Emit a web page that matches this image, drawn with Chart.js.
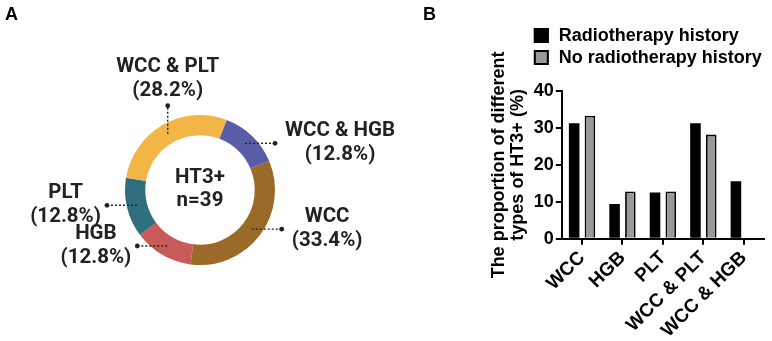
<!DOCTYPE html>
<html>
<head>
<meta charset="utf-8">
<script src="https://cdn.jsdelivr.net/npm/chart.js@4.4.1/dist/chart.umd.min.js"></script>
<style>
  body { margin: 0; background: #fff; }
  #wrap { position: relative; width: 772px; height: 341px; overflow: hidden; }
  #ringChart { position: absolute; left: 0; top: 0; }
  #barChart { position: absolute; left: 420px; top: 0; }
  .tag { position: absolute; top: 5px; font: bold 18px "Liberation Sans", Arial, sans-serif; line-height: 18px; color: #000; }
</style>
</head>
<body>
<div id="wrap">
  <canvas id="ringChart" width="420" height="341"></canvas>
  <canvas id="barChart" width="352" height="341"></canvas>
  <div class="tag" style="left:5px">A</div>
  <div class="tag" style="left:423px">B</div>
</div>
<script>
// Panel A data
const ringLabels = ['WCC', 'HGB', 'PLT', 'WCC & PLT', 'WCC & HGB'];
const ringShares = [33.4, 12.8, 12.8, 28.2, 12.8];
const centerLines = ['HT3+', 'n=39'];

// Panel B data
const categories = ['WCC', 'HGB', 'PLT', 'WCC & PLT', 'WCC & HGB'];
const radioHistory = [31.3, 9.4, 12.5, 31.3, 15.6];
const noRadioHistory = [33.3, 12.8, 12.8, 28.2, 0];
const yTicks = [0, 10, 20, 30, 40];

const ringColors = ['#9b6a28', '#c95a5a', '#2e6e7f', '#f2b647', '#5b5ca8'];
const ringFont = 'bold 20.5px Roboto, "Liberation Sans", sans-serif';
const barFont = '"Liberation Sans", Arial, sans-serif';

// labels with dotted leaders around the ring
const ringText = {
  id: 'ringText',
  afterDraw(chart) {
    const ctx = chart.ctx;
    const meta = chart.getDatasetMeta(0);
    const cx = meta.data[0].x, cy = meta.data[0].y;
    ctx.save();
    ctx.font = ringFont;
    ctx.fillStyle = '#222';
    ctx.textAlign = 'center';
    ctx.textBaseline = 'middle';
    ctx.fillText(centerLines[0], cx, cy - 12);
    ctx.fillText(centerLines[1], cx, cy + 11);

    meta.data.forEach((arc, i) => {
      const p = arc.getCenterPoint();
      const dx = p.x - cx, dy = p.y - cy;
      const up = dy < 0 && Math.abs(dy) > 1.5 * Math.abs(dx);
      const ex = up ? p.x : p.x + Math.sign(dx) * 30;
      const ey = up ? p.y - 28 : p.y;

      ctx.strokeStyle = '#222';
      ctx.lineWidth = 1.4;
      ctx.setLineDash([2, 2]);
      ctx.beginPath();
      ctx.moveTo(p.x, p.y);
      ctx.lineTo(ex, ey);
      ctx.stroke();
      ctx.setLineDash([]);
      ctx.fillStyle = '#222';
      ctx.beginPath();
      ctx.arc(ex, ey, 2.4, 0, Math.PI * 2);
      ctx.fill();

      const lines = [ringLabels[i], '(' + ringShares[i].toFixed(1) + '%)'];
      const w = Math.max(...lines.map(t => ctx.measureText(t).width));
      let tx, ty;
      if (up) {
        tx = ex;
        ty = ey - 38.5;
      } else {
        tx = dx > 0 ? ex + 10 + w / 2 : ex - 6 - w / 2;
        ty = ey - 12;
      }
      ctx.fillText(lines[0], tx, ty);
      ctx.fillText(lines[1], tx, ty + 24);
    });
    ctx.restore();
  }
};

new Chart(document.getElementById('ringChart'), {
  type: 'doughnut',
  data: {
    labels: ringLabels,
    datasets: [{ data: ringShares, backgroundColor: ringColors, borderWidth: 0 }]
  },
  options: {
    responsive: false,
    animation: false,
    rotation: 67,
    cutout: '73%',
    layout: { padding: { left: 125, right: 145, top: 115, bottom: 76 } },
    plugins: { legend: { display: false }, tooltip: { enabled: false } }
  },
  plugins: [ringText]
});

// stacked legend above the plot
const sideLegend = {
  id: 'sideLegend',
  afterDraw(chart) {
    const ctx = chart.ctx;
    const x = chart.chartArea.left - 28;
    const y0 = chart.chartArea.top - 63;
    ctx.save();
    ctx.font = 'bold 18px ' + barFont;
    ctx.textBaseline = 'middle';
    chart.data.datasets.forEach((ds, i) => {
      const y = y0 + i * 22;
      ctx.fillStyle = ds.backgroundColor;
      ctx.fillRect(x, y, 15, 15);
      ctx.strokeStyle = '#000';
      ctx.lineWidth = 2;
      ctx.strokeRect(x + 1, y + 1, 13, 13);
      ctx.fillStyle = '#000';
      ctx.fillText(ds.label, x + 25, y + 8);
    });
    ctx.restore();
  }
};

new Chart(document.getElementById('barChart'), {
  type: 'bar',
  data: {
    labels: categories,
    datasets: [
      { label: 'Radiotherapy history', data: radioHistory, backgroundColor: '#000', borderWidth: 0 },
      { label: 'No radiotherapy history', data: noRadioHistory, backgroundColor: '#999', borderColor: '#000', borderWidth: 1.8 }
    ]
  },
  options: {
    responsive: false,
    animation: false,
    datasets: { bar: { categoryPercentage: 0.78, barPercentage: 0.67 } },
    layout: { padding: { left: 70, top: 91, right: 8, bottom: -3 } },
    plugins: { legend: { display: false }, tooltip: { enabled: false } },
    scales: {
      x: {
        grid: { drawOnChartArea: false, offset: false, tickLength: 6, color: '#000', lineWidth: 2 },
        border: { color: '#000', width: 2 },
        ticks: { color: '#000', font: { family: barFont, size: 19, weight: 'bold' }, minRotation: 45, maxRotation: 45, padding: 2 }
      },
      y: {
        min: 0,
        max: 40,
        afterBuildTicks: axis => { axis.ticks = yTicks.map(v => ({ value: v })); },
        grid: { drawOnChartArea: false, tickLength: 6, color: '#000', lineWidth: 2 },
        border: { color: '#000', width: 2 },
        ticks: { color: '#000', font: { family: barFont, size: 18, weight: 'bold' }, padding: 2 },
        title: {
          display: true,
          text: ['The proportion of different', 'types of HT3+ (%)'],
          color: '#000',
          font: { family: barFont, size: 18, weight: 'bold', lineHeight: 1.05 },
          padding: { top: 0, bottom: 4 }
        }
      }
    }
  },
  plugins: [sideLegend]
});
</script>
</body>
</html>
